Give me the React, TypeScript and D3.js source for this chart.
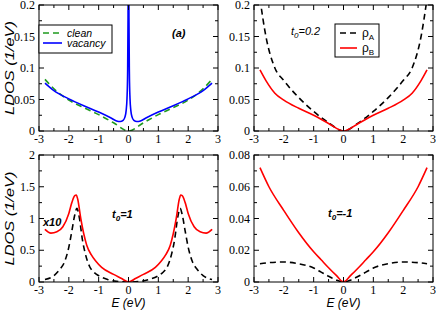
import * as d3 from "d3";
import React from "react";

// energy grids and LDOS values
const eClean = [-2.8, -2.5, -2, -1.5, -1, -0.5, 0, 0.5, 1, 1.5, 2, 2.5, 2.8];
const ldosClean = [0.082, 0.067, 0.049, 0.037, 0.026, 0.013, 0, 0.013, 0.026, 0.037, 0.049, 0.067, 0.082];

const eVac = [-2.8, -2.5, -2, -1.5, -1, -0.6, -0.4, -0.28, -0.18, -0.12, -0.08, -0.05, -0.03, -0.015, 0,
  0.015, 0.03, 0.05, 0.08, 0.12, 0.18, 0.28, 0.4, 0.6, 1, 1.5, 2, 2.5, 2.8];
const ldosVac = [0.076, 0.064, 0.051, 0.04, 0.03, 0.021, 0.016, 0.015, 0.017, 0.022, 0.032, 0.052, 0.09, 0.18, 0.5,
  0.18, 0.09, 0.052, 0.032, 0.022, 0.017, 0.015, 0.016, 0.021, 0.03, 0.04, 0.051, 0.064, 0.076];

const eB = [-2.8, -2.6, -2.3, -2, -1.5, -1, -0.5, 0, 0.5, 1, 1.5, 2, 2.3, 2.6, 2.8];
const rhoA02 = [0.21, 0.15, 0.1, 0.08, 0.053, 0.031, 0.013, 0, 0.013, 0.031, 0.053, 0.08, 0.1, 0.15, 0.21];
const rhoB02 = [0.097, 0.08, 0.06, 0.049, 0.036, 0.025, 0.012, 0, 0.012, 0.025, 0.036, 0.049, 0.06, 0.08, 0.097];

const eC = [-2.8, -2.6, -2.4, -2.2, -2, -1.9, -1.8, -1.75, -1.7, -1.6, -1.5, -1.4, -1.25, -1.1, -0.9, -0.5, -0.25, 0,
  0.25, 0.5, 0.9, 1.1, 1.25, 1.4, 1.5, 1.6, 1.7, 1.75, 1.8, 1.9, 2, 2.2, 2.4, 2.6, 2.8];
const rhoB1 = [0.83, 0.77, 0.79, 0.87, 1.08, 1.25, 1.36, 1.37, 1.3, 1.0, 0.76, 0.58, 0.43, 0.33, 0.23, 0.12, 0.06, 0,
  0.06, 0.12, 0.23, 0.33, 0.43, 0.58, 0.76, 1.0, 1.3, 1.37, 1.36, 1.25, 1.08, 0.87, 0.79, 0.77, 0.83];
const eD = [-2.8, -2.5, -2.3, -2.15, -2, -1.9, -1.8, -1.73, -1.65, -1.55, -1.45, -1.3, -1.15, -1, -0.7, -0.4, 0,
  0.4, 0.7, 1, 1.15, 1.3, 1.45, 1.55, 1.65, 1.73, 1.8, 1.9, 2, 2.15, 2.3, 2.5, 2.8];
const rhoA1 = [0.04, 0.1, 0.2, 0.31, 0.55, 0.8, 1.06, 1.16, 1.02, 0.68, 0.45, 0.24, 0.15, 0.1, 0.04, 0.01, 0,
  0.01, 0.04, 0.1, 0.15, 0.24, 0.45, 0.68, 1.02, 1.16, 1.06, 0.8, 0.55, 0.31, 0.2, 0.1, 0.04];

const eE = [-2.8, -2.5, -2, -1.5, -1, -0.75, -0.5, -0.25, 0, 0.25, 0.5, 0.75, 1, 1.5, 2, 2.5, 2.8];
const rhoAm1 = [0.0115, 0.0122, 0.0126, 0.0115, 0.0088, 0.0062, 0.0036, 0.0013, 0,
  0.0013, 0.0036, 0.0062, 0.0088, 0.0115, 0.0126, 0.0122, 0.0115];
const rhoBm1 = [0.072, 0.06, 0.045, 0.031, 0.019, 0.014, 0.009, 0.0043, 0,
  0.0043, 0.009, 0.014, 0.019, 0.031, 0.045, 0.06, 0.072];

const xTicks = [-3, -2, -1, 0, 1, 2, 3];

type Series = { x: number[]; y: number[]; color: string; dash?: string };
type Panel = {
  id: string;
  left: number; top: number; w: number; h: number;
  yMax: number; yTicks: number[]; yMinor: number;
  series: Series[];
  ylabel?: boolean; xlabel?: boolean;
};

const W = 179, H = 126;

const panels: Panel[] = [
  {
    id: "a", left: 39, top: 5, w: W, h: H, yMax: 0.2, yTicks: [0, 0.05, 0.1, 0.15, 0.2], yMinor: 0.025,
    series: [
      { x: eClean, y: ldosClean, color: "#1f9a1f", dash: "6,4" },
      { x: eVac, y: ldosVac, color: "#0000ff" },
    ],
    ylabel: true,
  },
  {
    id: "b", left: 254, top: 5, w: W, h: H, yMax: 0.2, yTicks: [0, 0.05, 0.1, 0.15, 0.2], yMinor: 0.025,
    series: [
      { x: eB, y: rhoA02, color: "#000", dash: "6,4" },
      { x: eB, y: rhoB02, color: "#ff0000" },
    ],
  },
  {
    id: "c", left: 39, top: 155, w: W, h: 127, yMax: 2, yTicks: [0, 0.5, 1, 1.5, 2], yMinor: 0.25,
    series: [
      { x: eD, y: rhoA1, color: "#000", dash: "6,4" },
      { x: eC, y: rhoB1, color: "#ff0000" },
    ],
    ylabel: true, xlabel: true,
  },
  {
    id: "d", left: 254, top: 155, w: W, h: 127, yMax: 0.08, yTicks: [0, 0.02, 0.04, 0.06, 0.08], yMinor: 0.01,
    series: [
      { x: eE, y: rhoAm1, color: "#000", dash: "6,4" },
      { x: eE, y: rhoBm1, color: "#ff0000" },
    ],
    xlabel: true,
  },
];

const serif = "'Liberation Serif', 'Times New Roman', serif";
const sans = "'Liberation Sans', Arial, sans-serif";

function PanelView({ p }: { p: Panel }) {
  const x = d3.scaleLinear().domain([-3, 3]).range([0, p.w]);
  const y = d3.scaleLinear().domain([0, p.yMax]).range([p.h, 0]);
  const xMinor = d3.range(-3, 3.001, 0.5);
  const yMinor = d3.range(0, p.yMax + 1e-9, p.yMinor);
  const line = d3.line<number>().curve(d3.curveMonotoneX);

  return (
    <g transform={`translate(${p.left},${p.top})`}>
      <defs>
        <clipPath id={`clip-${p.id}`}>
          <rect x={0} y={0} width={p.w} height={p.h} />
        </clipPath>
      </defs>
      <rect x={0} y={0} width={p.w} height={p.h} fill="#fff" />
      <g clipPath={`url(#clip-${p.id})`}>
        {p.series.map((s, i) => (
          <path
            key={i}
            d={line.x((_, j) => x(s.x[j])).y((v) => y(v))(s.y) || ""}
            fill="none"
            stroke={s.color}
            strokeWidth={1.6}
            strokeDasharray={s.dash}
          />
        ))}
      </g>
      {/* ticks on all four sides, pointing inward */}
      <g stroke="#000" strokeWidth={1}>
        {xMinor.map((t) => {
          const major = Math.abs(t - Math.round(t)) < 1e-6;
          const len = major ? 5 : 3;
          return (
            <g key={`x${t}`}>
              <line x1={x(t)} x2={x(t)} y1={p.h} y2={p.h - len} />
              <line x1={x(t)} x2={x(t)} y1={0} y2={len} />
            </g>
          );
        })}
        {yMinor.map((t, i) => {
          const len = i % 2 === 0 ? 5 : 3;
          return (
            <g key={`y${i}`}>
              <line x1={0} x2={len} y1={y(t)} y2={y(t)} />
              <line x1={p.w} x2={p.w - len} y1={y(t)} y2={y(t)} />
            </g>
          );
        })}
      </g>
      <rect x={0} y={0} width={p.w} height={p.h} fill="none" stroke="#000" strokeWidth={1} />
      {xTicks.map((t) => (
        <text key={`xl${t}`} x={x(t)} y={p.h + 12} textAnchor="middle" fontFamily={serif} fontSize={12}>
          {t}
        </text>
      ))}
      {p.yTicks.map((t) => (
        <text key={`yl${t}`} x={-4} y={y(t) + 4} textAnchor="end" fontFamily={serif} fontSize={12}>
          {String(t)}
        </text>
      ))}
      {p.ylabel && (
        <text
          transform={`translate(-25,${p.h / 2}) rotate(-90)`}
          textAnchor="middle"
          fontFamily={sans}
          fontStyle="italic"
          fontSize={12}
          textLength={94}
          lengthAdjust="spacingAndGlyphs"
        >
          LDOS (1/eV)
        </text>
      )}
      {p.xlabel && (
        <text x={p.w / 2} y={p.h + 25} textAnchor="middle" fontFamily={sans} fontStyle="italic" fontSize={12}>
          E (eV)
        </text>
      )}
    </g>
  );
}

export default function App() {
  const it = { fontFamily: sans, fontStyle: "italic" as const };
  return (
    <svg width={436} height={310} style={{ position: "absolute", left: 0, top: 0, background: "#fff" }}>
      {panels.map((p) => (
        <PanelView key={p.id} p={p} />
      ))}

      {/* panel (a) legend */}
      <rect x={39} y={25} width={73} height={28} fill="#fff" stroke="#000" />
      <line x1={43} x2={62} y1={33} y2={33} stroke="#1f9a1f" strokeWidth={1.6} strokeDasharray="6,4" />
      <line x1={43} x2={62} y1={43} y2={43} stroke="#0000ff" strokeWidth={1.6} />
      <text x={67} y={36.5} {...it} fontSize={10.5}>clean</text>
      <text x={67} y={47} {...it} fontSize={10.5}>vacancy</text>
      <text x={172} y={37} {...it} fontWeight="bold" fontSize={11}>(a)</text>

      {/* panel (b) legend */}
      <rect x={335} y={24} width={44} height={33} fill="#fff" stroke="#000" />
      <line x1={340} x2={357} y1={33} y2={33} stroke="#000" strokeWidth={1.6} strokeDasharray="6,4" />
      <line x1={340} x2={357} y1={48} y2={48} stroke="#ff0000" strokeWidth={1.6} />
      <text x={362} y={37} fontFamily={sans} fontSize={12}>
        ρ<tspan fontSize={8} dy={3}>A</tspan>
      </text>
      <text x={362} y={52} fontFamily={sans} fontSize={12}>
        ρ<tspan fontSize={8} dy={3}>B</tspan>
      </text>
      <text x={291} y={35} {...it} fontSize={11}>
        t<tspan fontSize={8} dy={3}>0</tspan><tspan dy={-3}>=0.2</tspan>
      </text>

      {/* bottom annotations */}
      <text x={43} y={226} {...it} fontWeight="bold" fontSize={11}>x10</text>
      <text x={112} y={218} {...it} fontWeight="bold" fontSize={11}>
        t<tspan fontSize={8} dy={3}>0</tspan><tspan dy={-3}>=1</tspan>
      </text>
      <text x={328} y={217} {...it} fontWeight="bold" fontSize={11}>
        t<tspan fontSize={8} dy={3}>0</tspan><tspan dy={-3}>=-1</tspan>
      </text>
    </svg>
  );
}
